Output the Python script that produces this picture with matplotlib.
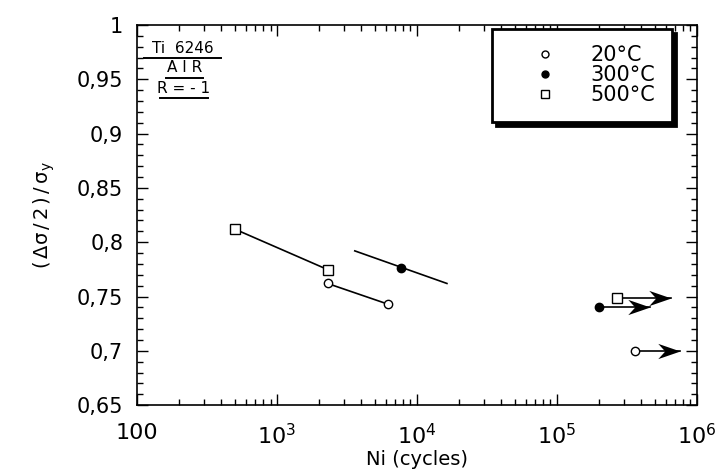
import matplotlib.pyplot as plt
from matplotlib.ticker import FixedLocator, MultipleLocator, LogLocator, NullFormatter
from matplotlib.lines import Line2D
from matplotlib.path import Path

# 20 C
n_20 = [2300, 6200]
s_20 = [0.762, 0.743]
# 300 C
n_300 = [7700]
s_300 = [0.776]
fit_300_n = [3600, 16400]
fit_300_s = [0.792, 0.762]
# 500 C
n_500 = [500, 2330]
s_500 = [0.812, 0.7745]
# run-outs (point, arrow end)
runout_n = [360000, 200000, 270000]
runout_s = [0.700, 0.7405, 0.749]
runout_end = [760000, 460000, 650000]
runout_mk = ['o', 'o', 's']
runout_fill = ['white', 'black', 'white']

xticks = [100, 1e3, 1e4, 1e5, 1e6]
xlabels = ['100', '$10^3$', '$10^4$', '$10^5$', '$10^6$']
yticks = [0.65, 0.7, 0.75, 0.8, 0.85, 0.9, 0.95, 1]
ylabels = ['0,65', '0,7', '0,75', '0,8', '0,85', '0,9', '0,95', '1']

plt.rcParams['font.family'] = ['DejaVu Sans']
plt.rcParams['mathtext.default'] = 'regular'

# barbed arrow head pointing right, tip at origin
head = Path([(0, 0), (-1.6, 0.55), (-1.1, 0), (-1.6, -0.55), (0, 0)],
            [Path.MOVETO, Path.LINETO, Path.LINETO, Path.LINETO, Path.CLOSEPOLY])

fig = plt.figure(figsize=(7.25, 4.7), dpi=100)
ax = fig.add_axes([0.189, 0.138, 0.772, 0.809])

ax.plot(n_500, s_500, '-', color='black', lw=1.2, marker='s', ms=7, mfc='white', mec='black', mew=1)
ax.plot(n_20, s_20, '-', color='black', lw=1.2, marker='o', ms=6, mfc='white', mec='black', mew=1)
ax.plot(fit_300_n, fit_300_s, '-', color='black', lw=1.2)
ax.plot(n_300, s_300, 'o', ms=6, mfc='black', mec='black')

for n, s, e, m, f in zip(runout_n, runout_s, runout_end, runout_mk, runout_fill):
    ax.plot([n], [s], m, ms=6 if m == 'o' else 7, mfc=f, mec='black', mew=1, zorder=4)
    ax.plot([n * 1.07, e], [s, s], color='black', lw=1.2)
    ax.plot([e], [s], marker=head, ms=32, color='black', mew=0, zorder=5)

ax.set_xscale('log')
ax.set_xlim(100, 1e6)
ax.set_ylim(0.65, 1)
ax.xaxis.set_major_locator(FixedLocator(xticks))
ax.set_xticks(xticks)
ax.set_xticklabels(xlabels, fontsize=16)
ax.xaxis.set_minor_locator(LogLocator(base=10, subs=range(2, 10)))
ax.xaxis.set_minor_formatter(NullFormatter())
ax.set_yticks(yticks)
ax.set_yticklabels(ylabels, fontsize=15)
ax.yaxis.set_minor_locator(MultipleLocator(0.01))
ax.tick_params(which='both', direction='in', top=True, right=True, width=1)
ax.tick_params(which='major', length=8, pad=10)
ax.tick_params(axis='x', which='major', pad=13)
ax.tick_params(which='minor', length=4)
for sp in ax.spines.values():
    sp.set_linewidth(1.2)

ax.set_xlabel('Ni (cycles)', fontsize=14, labelpad=1)
ax.set_ylabel(r'$(\,\Delta\sigma\,/\,2\,)\,/\,\sigma_y$', fontsize=14, labelpad=14)

# material / condition block, underlined
for txt, yy, x0, x1 in [('Ti  6246', 0.913, 0.013, 0.150),
                         ('A I R', 0.861, 0.052, 0.117),
                         ('R = - 1', 0.808, 0.041, 0.126)]:
    ax.text((x0 + x1) / 2, yy + 0.014, txt, transform=ax.transAxes, ha='center', va='baseline',
            fontsize=11)
    ax.plot([x0, x1], [yy, yy], transform=ax.transAxes, color='black', lw=1.4)

handles = [Line2D([], [], ls='none', marker='o', ms=5, mfc='white', mec='black'),
           Line2D([], [], ls='none', marker='o', ms=5, mfc='black', mec='black'),
           Line2D([], [], ls='none', marker='s', ms=6, mfc='white', mec='black')]
leg = ax.legend(handles, ['20°C', '300°C', '500°C'], loc='upper right',
                bbox_to_anchor=(0.955, 0.99), fontsize=15, frameon=True, fancybox=False,
                shadow={'color': 'black', 'alpha': 1, 'ox': 3, 'oy': -3},
                edgecolor='black', borderpad=0.8,
                labelspacing=0.0, handletextpad=0.4, borderaxespad=0, handlelength=3.5)
leg.get_frame().set_linewidth(2)
leg.get_frame().set_alpha(1)

fig.savefig('out.png', dpi=100)
